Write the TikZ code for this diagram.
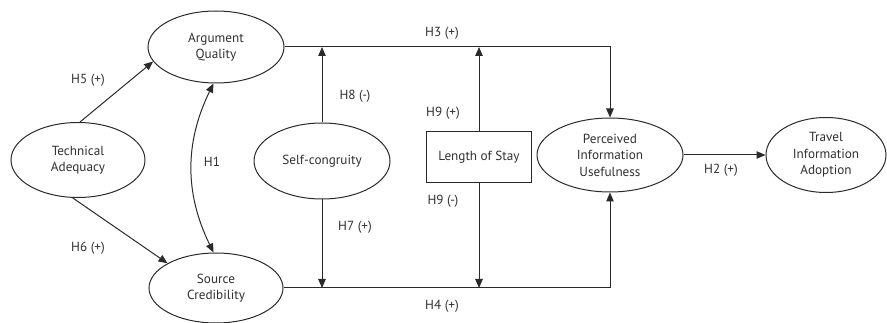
\documentclass[tikz,border=0pt]{standalone}
\usepackage{fontspec}
\setmainfont{PT Sans}
\usetikzlibrary{shapes.geometric,arrows.meta}
\definecolor{ink}{HTML}{2A2A2A}
\definecolor{txt}{HTML}{303030}
\begin{document}
\begin{tikzpicture}[x=1pt,y=-1pt,
  every node/.style={font=\fontsize{13.2}{16.5}\selectfont, text=txt},
  construct/.style={ellipse, draw=ink, line width=1pt, inner sep=0pt, align=center},
  boxnode/.style={rectangle, draw=ink, line width=1pt, inner sep=0pt, align=center,
    minimum width=105pt, minimum height=51pt},
  link/.style={draw=ink, line width=1pt, -{Triangle[length=9pt,width=7.5pt]}},
  twoway/.style={draw=ink, line width=1pt, {Triangle[length=9pt,width=7.5pt]}-{Triangle[length=9pt,width=7.5pt]}},
  hyp/.style={inner sep=1pt}]
\useasboundingbox (0,0) rectangle (887,323);

% constructs
\node[construct, minimum width=134pt, minimum height=75pt] (ta)  at (78,160)  {Technical\\Adequacy};
\node[construct, minimum width=136pt, minimum height=72pt] (aq)  at (216,47)  {Argument\\Quality};
\node[construct, minimum width=134pt, minimum height=70pt] (sc)  at (216,288) {Source\\Credibility};
\node[construct, minimum width=136pt, minimum height=76pt] (sg)  at (322,161) {Self-congruity};
\node[boxnode] (los) at (479,157.5) {Length of Stay};
\node[construct, minimum width=146pt, minimum height=74pt] (piu) at (610,155) {Perceived\\Information\\Usefulness};
\node[construct, minimum width=120pt, minimum height=75pt] (tia) at (826,155) {Travel\\Information\\Adoption};

% corner and junction points of the two main paths
\coordinate (topturn) at (610,47);
\coordinate (botturn) at (610,288);
\coordinate (sgtop) at (322,47);
\coordinate (sgbot) at (322,288);
\coordinate (lostop) at (479,47);
\coordinate (losbot) at (479,288);

% paths
\draw[link] (ta.87) -- (aq.193);
\draw[link] (ta.262) -- (sc.153);
\draw[twoway] (aq.266) to[bend right=26] (sc.94);
\draw[link] (aq.east) -- (topturn) -- (piu.north);
\draw[link] (sc.east) -- (botturn) -- (piu.south);
\draw[link] (sg.north) -- (sgtop);
\draw[link] (sg.south) -- (sgbot);
\draw[link] (los.north) -- (lostop);
\draw[link] (los.south) -- (losbot);
\draw[link] (piu.east) -- (tia.west);

% hypothesis labels
\node[hyp] (h5) at (88,80)   {H5 (+)};
\node[hyp] (h6) at (88,248)  {H6 (+)};
\node[hyp] (h1) at (212,162) {H1};
\node[hyp] (h8) at (355,96)  {H8 (-)};
\node[hyp] (h7) at (355,227) {H7 (+)};
\node[hyp] (h9a) at (443,113) {H9 (+)};
\node[hyp] (h9b) at (443,201) {H9 (-)};
\node[hyp] (h3) at (442,33)  {H3 (+)};
\node[hyp] (h4) at (442,306) {H4 (+)};
\node[hyp] (h2) at (721,170) {H2 (+)};
\end{tikzpicture}
\end{document}
